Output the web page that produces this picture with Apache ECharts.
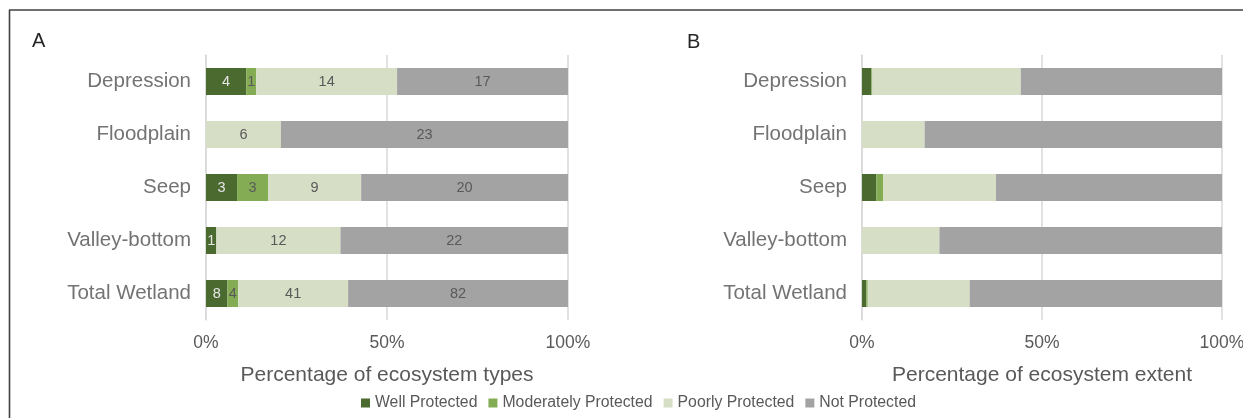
<!DOCTYPE html>
<html>
<head>
<meta charset="utf-8">
<title>Wetland ecosystem protection levels</title>
<script src="https://cdn.jsdelivr.net/npm/echarts@6/dist/echarts.min.js"></script>
<style>
  html, body { margin: 0; padding: 0; background: #ffffff; }
  #chart { width: 1243px; height: 418px; }
</style>
</head>
<body>
<div id="chart"></div>
<script>
// Wetland ecosystem types, top to bottom
const categories = ['Depression', 'Floodplain', 'Seep', 'Valley-bottom', 'Total Wetland'];
const protectionLevels = ['Well Protected', 'Moderately Protected', 'Poorly Protected', 'Not Protected'];
const levelColors = ['#4a6a30', '#84ac55', '#d6dfc6', '#a3a3a3'];
const tickLabels = ['0%', '50%', '100%'];

// Panel A: number of ecosystem types in each protection level
const wellTypes = [4, 0, 3, 1, 8];
const moderateTypes = [1, 0, 3, 0, 4];
const poorTypes = [14, 6, 9, 12, 41];
const notTypes = [17, 23, 20, 22, 82];

// Panel B: percentage of ecosystem extent in each protection level
const wellExtent = [2.6, 0, 4.0, 0, 1.2];
const moderateExtent = [0.3, 0, 1.9, 0, 0.4];
const poorExtent = [41.2, 17.4, 31.3, 21.5, 28.3];
const notExtent = [55.9, 82.6, 62.8, 78.5, 70.1];

const FONT = "'Liberation Sans', Arial, sans-serif";
const NARROW = "'Liberation Sans Narrow', 'Arial Narrow', 'Liberation Sans', Arial, sans-serif";
const TEXT_GREY = '#595959';

const typeCounts = [wellTypes, moderateTypes, poorTypes, notTypes];
const extentShares = [wellExtent, moderateExtent, poorExtent, notExtent];
const typeTotals = categories.map((_, i) => typeCounts.reduce((s, arr) => s + arr[i], 0));

function xAxisFor(gridIndex, name) {
  return {
    type: 'value', gridIndex, min: 0, max: 100, interval: 50, name,
    nameLocation: 'middle', nameGap: 45,
    nameTextStyle: { fontFamily: FONT, fontSize: 21, color: TEXT_GREY },
    axisLine: { show: false }, axisTick: { show: false },
    splitLine: { show: true, lineStyle: { color: '#d9d9d9', width: 1.5 } },
    axisLabel: {
      margin: 14, fontFamily: FONT, fontSize: 17.5, color: TEXT_GREY,
      formatter: v => tickLabels[Math.round(v / 50)]
    }
  };
}

function yAxisFor(gridIndex) {
  return {
    type: 'category', gridIndex, data: categories, inverse: true,
    axisLine: { show: true, lineStyle: { color: '#d9d9d9', width: 1.5 } },
    axisTick: { show: false },
    axisLabel: { margin: 15, fontFamily: FONT, fontSize: 20.5, color: '#737373' }
  };
}

const series = [];
protectionLevels.forEach((level, k) => {
  // Panel A: 100% stacked from counts, labelled with the count itself
  series.push({
    name: level, type: 'bar', stack: 'types', xAxisIndex: 0, yAxisIndex: 0,
    barWidth: 27, itemStyle: { color: levelColors[k] },
    data: typeCounts[k].map((c, i) => ({ value: c / typeTotals[i] * 100, count: c })),
    label: {
      show: true, position: 'inside', fontFamily: NARROW, fontSize: 14.5,
      color: k === 0 ? '#e6e6e6' : TEXT_GREY,
      formatter: p => (p.data.count > 0 ? String(p.data.count) : '')
    },
    emphasis: { disabled: true }
  });
  // Panel B: share of ecosystem extent
  series.push({
    name: level, type: 'bar', stack: 'extent', xAxisIndex: 1, yAxisIndex: 1,
    barWidth: 27, itemStyle: { color: levelColors[k] },
    data: extentShares[k],
    emphasis: { disabled: true }
  });
});

const chart = echarts.init(document.getElementById('chart'), null, { renderer: 'canvas' });
chart.setOption({
  animation: false,
  backgroundColor: '#ffffff',
  color: levelColors,
  grid: [
    { left: 206, right: 675, top: 55, height: 265, outerBoundsMode: 'none', containLabel: false },
    { left: 862, right: 21, top: 55, height: 265, outerBoundsMode: 'none', containLabel: false }
  ],
  xAxis: [
    xAxisFor(0, 'Percentage of ecosystem types'),
    xAxisFor(1, 'Percentage of ecosystem extent')
  ],
  yAxis: [yAxisFor(0), yAxisFor(1)],
  legend: {
    data: protectionLevels, left: 356, top: 390,
    icon: 'rect', itemWidth: 9, itemHeight: 9, itemGap: 11,
    textStyle: { fontFamily: FONT, fontSize: 15.8, color: TEXT_GREY },
    selectedMode: false
  },
  graphic: [
    { type: 'line', shape: { x1: 9, y1: 10, x2: 1243, y2: 10 }, style: { stroke: '#404040', lineWidth: 1.6 } },
    { type: 'line', shape: { x1: 9.5, y1: 10, x2: 9.5, y2: 418 }, style: { stroke: '#404040', lineWidth: 1.6 } },
    { type: 'text', left: 32, top: 31, style: { text: 'A', font: "20px 'Liberation Sans', Arial, sans-serif", fill: '#262626' } },
    { type: 'text', left: 687, top: 32, style: { text: 'B', font: "20px 'Liberation Sans', Arial, sans-serif", fill: '#262626' } }
  ],
  series
});
</script>
</body>
</html>
